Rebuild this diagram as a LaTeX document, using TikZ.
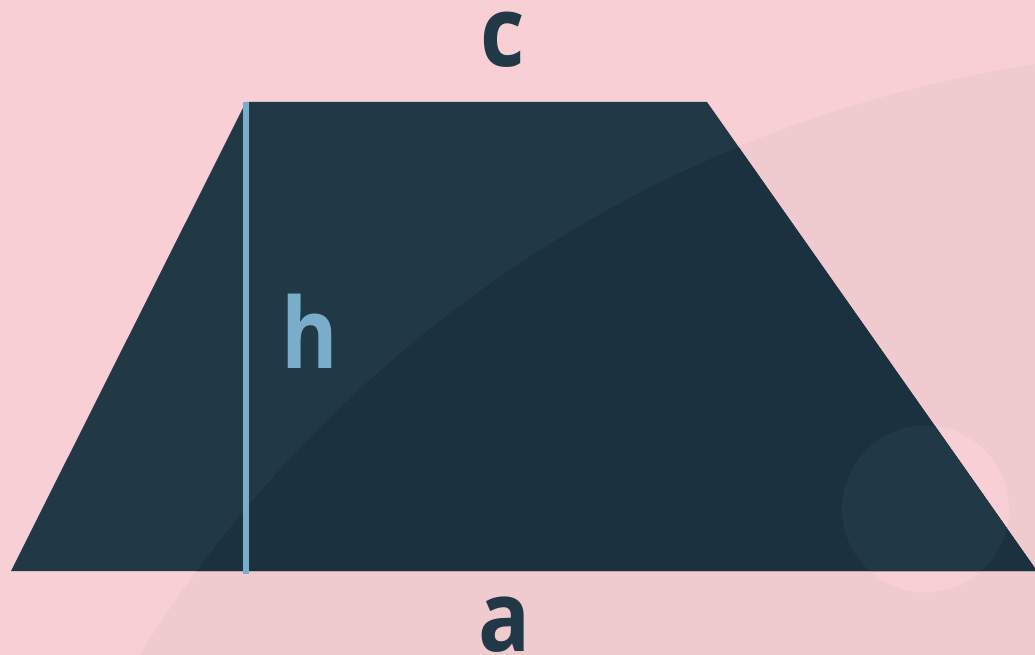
\documentclass[tikz,border=0pt]{standalone}
\usepackage{fontspec}
\usepackage{graphicx}
\setmainfont{Open Sans}
\usetikzlibrary{positioning}
\definecolor{blush}{HTML}{F7CFD4}
\definecolor{blushdk}{HTML}{EFCACE}
\definecolor{navy}{HTML}{213847}
\definecolor{navydk}{HTML}{1B313F}
\definecolor{sky}{HTML}{7AADC9}
\newcommand{\narrowltr}[1]{\scalebox{0.88}[1]{#1}}
\tikzset{
  lbl/.style={font=\fontsize{98}{98}\selectfont\bfseries, text=navy, inner sep=0pt, anchor=base},
  lblh/.style={lbl, text=sky},
  hline/.style={draw=sky, line width=5.5pt},
}
\begin{document}
\begin{tikzpicture}[x=1pt, y=-1pt]
        \useasboundingbox (0,0) rectangle (1035,655);
        \clip (0,0) rectangle (1035,655);
        \fill[blush] (0,0) rectangle (1035,655);
        % background discs
        \fill[blushdk] (1228,1331) circle[radius=1281];
        \fill[blush] (925.5,509) circle[radius=83.5];
        % trapezoid
        \coordinate (bl) at (11,571);
        \coordinate (br) at (1037,571);
        \coordinate (tr) at (707,102);
        \coordinate (tl) at (246,102);
        \fill[navy] (bl) -- (br) -- (tr) -- (tl) -- cycle;
        \begin{scope}
          \clip (bl) -- (br) -- (tr) -- (tl) -- cycle;
          \fill[navydk] (1228,1331) circle[radius=1281];
          \fill[navy] (925.5,509) circle[radius=83.5];
        \end{scope}
        % height
        \coordinate (hbot) at (246,574);
        \draw[hline] (tl) -- (hbot);
        \node[lbl] (c) at (503,67) {\narrowltr{c}};
        \node[lblh] (h) at (309.5,368) {\narrowltr{h}};
        \node[lbl] (a) at (505,651) {\narrowltr{a}};
      \end{tikzpicture}
\end{document}
